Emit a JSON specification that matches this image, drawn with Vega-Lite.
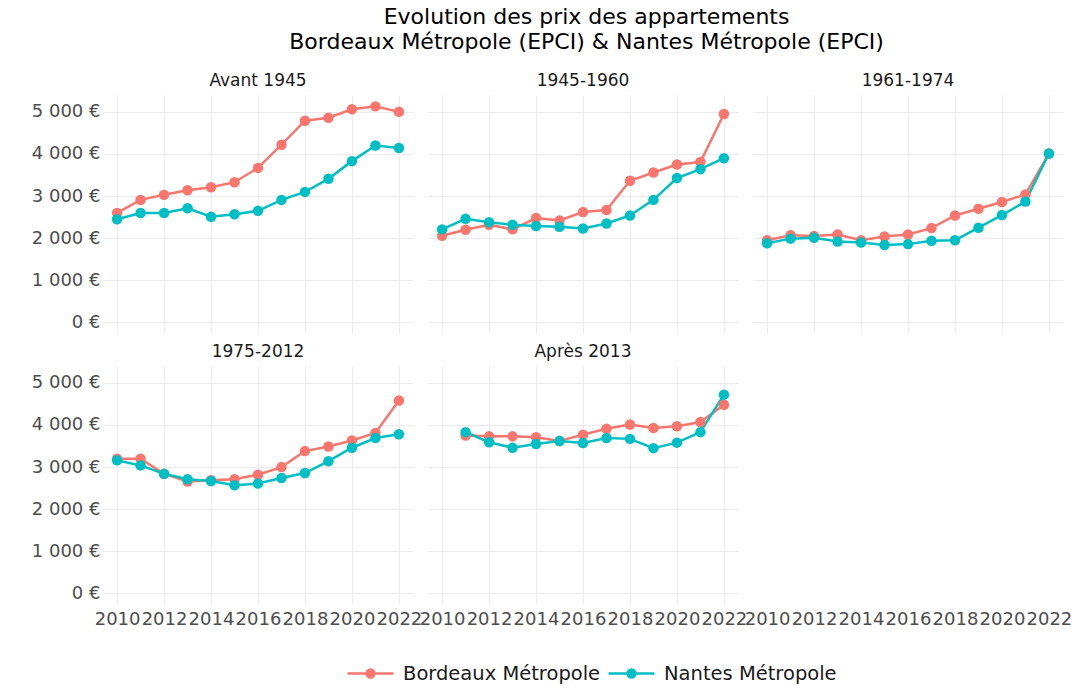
{
  "$schema": "https://vega.github.io/schema/vega-lite/v6.json",
  "padding": {"left": 31, "top": 6, "right": 10, "bottom": 6},
  "background": "white",
  "title": {
    "text": ["Evolution des prix des appartements", "Bordeaux Métropole (EPCI) & Nantes Métropole (EPCI)"],
    "fontSize": 22, "fontWeight": "normal", "font": "DejaVu Sans", "color": "#000000",
    "lineHeight": 24.5, "anchor": "middle", "offset": 18.5, "dx": 35
  },
  "config": {
    "font": "DejaVu Sans",
    "view": {"stroke": null},
    "axis": {"domain": false, "ticks": false, "grid": true, "gridColor": "#ebebeb", "gridWidth": 1,
             "labelFont": "DejaVu Sans", "labelFontSize": 18, "labelColor": "#4d4d4d", "title": null},
    "header": {"labelFont": "DejaVu Sans", "labelFontSize": 17, "labelColor": "#1a1a1a"}
  },
  "data": {"values": [
    {"periode":"Avant 1945","ville":"Bordeaux Métropole","annee":2010,"prix":2600},
    {"periode":"Avant 1945","ville":"Bordeaux Métropole","annee":2011,"prix":2910},
    {"periode":"Avant 1945","ville":"Bordeaux Métropole","annee":2012,"prix":3030},
    {"periode":"Avant 1945","ville":"Bordeaux Métropole","annee":2013,"prix":3140},
    {"periode":"Avant 1945","ville":"Bordeaux Métropole","annee":2014,"prix":3210},
    {"periode":"Avant 1945","ville":"Bordeaux Métropole","annee":2015,"prix":3330},
    {"periode":"Avant 1945","ville":"Bordeaux Métropole","annee":2016,"prix":3670},
    {"periode":"Avant 1945","ville":"Bordeaux Métropole","annee":2017,"prix":4220},
    {"periode":"Avant 1945","ville":"Bordeaux Métropole","annee":2018,"prix":4790},
    {"periode":"Avant 1945","ville":"Bordeaux Métropole","annee":2019,"prix":4860},
    {"periode":"Avant 1945","ville":"Bordeaux Métropole","annee":2020,"prix":5060},
    {"periode":"Avant 1945","ville":"Bordeaux Métropole","annee":2021,"prix":5130},
    {"periode":"Avant 1945","ville":"Bordeaux Métropole","annee":2022,"prix":5000},
    {"periode":"1945-1960","ville":"Bordeaux Métropole","annee":2010,"prix":2060},
    {"periode":"1945-1960","ville":"Bordeaux Métropole","annee":2011,"prix":2200},
    {"periode":"1945-1960","ville":"Bordeaux Métropole","annee":2012,"prix":2320},
    {"periode":"1945-1960","ville":"Bordeaux Métropole","annee":2013,"prix":2210},
    {"periode":"1945-1960","ville":"Bordeaux Métropole","annee":2014,"prix":2480},
    {"periode":"1945-1960","ville":"Bordeaux Métropole","annee":2015,"prix":2420},
    {"periode":"1945-1960","ville":"Bordeaux Métropole","annee":2016,"prix":2620},
    {"periode":"1945-1960","ville":"Bordeaux Métropole","annee":2017,"prix":2670},
    {"periode":"1945-1960","ville":"Bordeaux Métropole","annee":2018,"prix":3365},
    {"periode":"1945-1960","ville":"Bordeaux Métropole","annee":2019,"prix":3560},
    {"periode":"1945-1960","ville":"Bordeaux Métropole","annee":2020,"prix":3750},
    {"periode":"1945-1960","ville":"Bordeaux Métropole","annee":2021,"prix":3810},
    {"periode":"1945-1960","ville":"Bordeaux Métropole","annee":2022,"prix":4950},
    {"periode":"1961-1974","ville":"Bordeaux Métropole","annee":2010,"prix":1950},
    {"periode":"1961-1974","ville":"Bordeaux Métropole","annee":2011,"prix":2070},
    {"periode":"1961-1974","ville":"Bordeaux Métropole","annee":2012,"prix":2050},
    {"periode":"1961-1974","ville":"Bordeaux Métropole","annee":2013,"prix":2090},
    {"periode":"1961-1974","ville":"Bordeaux Métropole","annee":2014,"prix":1950},
    {"periode":"1961-1974","ville":"Bordeaux Métropole","annee":2015,"prix":2040},
    {"periode":"1961-1974","ville":"Bordeaux Métropole","annee":2016,"prix":2090},
    {"periode":"1961-1974","ville":"Bordeaux Métropole","annee":2017,"prix":2240},
    {"periode":"1961-1974","ville":"Bordeaux Métropole","annee":2018,"prix":2540},
    {"periode":"1961-1974","ville":"Bordeaux Métropole","annee":2019,"prix":2700},
    {"periode":"1961-1974","ville":"Bordeaux Métropole","annee":2020,"prix":2860},
    {"periode":"1961-1974","ville":"Bordeaux Métropole","annee":2021,"prix":3040},
    {"periode":"1961-1974","ville":"Bordeaux Métropole","annee":2022,"prix":4010},
    {"periode":"1975-2012","ville":"Bordeaux Métropole","annee":2010,"prix":3200},
    {"periode":"1975-2012","ville":"Bordeaux Métropole","annee":2011,"prix":3200},
    {"periode":"1975-2012","ville":"Bordeaux Métropole","annee":2012,"prix":2840},
    {"periode":"1975-2012","ville":"Bordeaux Métropole","annee":2013,"prix":2660},
    {"periode":"1975-2012","ville":"Bordeaux Métropole","annee":2014,"prix":2690},
    {"periode":"1975-2012","ville":"Bordeaux Métropole","annee":2015,"prix":2710},
    {"periode":"1975-2012","ville":"Bordeaux Métropole","annee":2016,"prix":2820},
    {"periode":"1975-2012","ville":"Bordeaux Métropole","annee":2017,"prix":3000},
    {"periode":"1975-2012","ville":"Bordeaux Métropole","annee":2018,"prix":3380},
    {"periode":"1975-2012","ville":"Bordeaux Métropole","annee":2019,"prix":3490},
    {"periode":"1975-2012","ville":"Bordeaux Métropole","annee":2020,"prix":3630},
    {"periode":"1975-2012","ville":"Bordeaux Métropole","annee":2021,"prix":3810},
    {"periode":"1975-2012","ville":"Bordeaux Métropole","annee":2022,"prix":4580},
    {"periode":"Après 2013","ville":"Bordeaux Métropole","annee":2011,"prix":3750},
    {"periode":"Après 2013","ville":"Bordeaux Métropole","annee":2012,"prix":3730},
    {"periode":"Après 2013","ville":"Bordeaux Métropole","annee":2013,"prix":3730},
    {"periode":"Après 2013","ville":"Bordeaux Métropole","annee":2014,"prix":3710},
    {"periode":"Après 2013","ville":"Bordeaux Métropole","annee":2015,"prix":3620},
    {"periode":"Après 2013","ville":"Bordeaux Métropole","annee":2016,"prix":3770},
    {"periode":"Après 2013","ville":"Bordeaux Métropole","annee":2017,"prix":3910},
    {"periode":"Après 2013","ville":"Bordeaux Métropole","annee":2018,"prix":4010},
    {"periode":"Après 2013","ville":"Bordeaux Métropole","annee":2019,"prix":3930},
    {"periode":"Après 2013","ville":"Bordeaux Métropole","annee":2020,"prix":3970},
    {"periode":"Après 2013","ville":"Bordeaux Métropole","annee":2021,"prix":4070},
    {"periode":"Après 2013","ville":"Bordeaux Métropole","annee":2022,"prix":4480},
    {"periode":"Avant 1945","ville":"Nantes Métropole","annee":2010,"prix":2450},
    {"periode":"Avant 1945","ville":"Nantes Métropole","annee":2011,"prix":2600},
    {"periode":"Avant 1945","ville":"Nantes Métropole","annee":2012,"prix":2600},
    {"periode":"Avant 1945","ville":"Nantes Métropole","annee":2013,"prix":2710},
    {"periode":"Avant 1945","ville":"Nantes Métropole","annee":2014,"prix":2510},
    {"periode":"Avant 1945","ville":"Nantes Métropole","annee":2015,"prix":2570},
    {"periode":"Avant 1945","ville":"Nantes Métropole","annee":2016,"prix":2650},
    {"periode":"Avant 1945","ville":"Nantes Métropole","annee":2017,"prix":2910},
    {"periode":"Avant 1945","ville":"Nantes Métropole","annee":2018,"prix":3100},
    {"periode":"Avant 1945","ville":"Nantes Métropole","annee":2019,"prix":3410},
    {"periode":"Avant 1945","ville":"Nantes Métropole","annee":2020,"prix":3830},
    {"periode":"Avant 1945","ville":"Nantes Métropole","annee":2021,"prix":4200},
    {"periode":"Avant 1945","ville":"Nantes Métropole","annee":2022,"prix":4140},
    {"periode":"1945-1960","ville":"Nantes Métropole","annee":2010,"prix":2210},
    {"periode":"1945-1960","ville":"Nantes Métropole","annee":2011,"prix":2460},
    {"periode":"1945-1960","ville":"Nantes Métropole","annee":2012,"prix":2380},
    {"periode":"1945-1960","ville":"Nantes Métropole","annee":2013,"prix":2320},
    {"periode":"1945-1960","ville":"Nantes Métropole","annee":2014,"prix":2290},
    {"periode":"1945-1960","ville":"Nantes Métropole","annee":2015,"prix":2270},
    {"periode":"1945-1960","ville":"Nantes Métropole","annee":2016,"prix":2230},
    {"periode":"1945-1960","ville":"Nantes Métropole","annee":2017,"prix":2350},
    {"periode":"1945-1960","ville":"Nantes Métropole","annee":2018,"prix":2540},
    {"periode":"1945-1960","ville":"Nantes Métropole","annee":2019,"prix":2910},
    {"periode":"1945-1960","ville":"Nantes Métropole","annee":2020,"prix":3430},
    {"periode":"1945-1960","ville":"Nantes Métropole","annee":2021,"prix":3640},
    {"periode":"1945-1960","ville":"Nantes Métropole","annee":2022,"prix":3900},
    {"periode":"1961-1974","ville":"Nantes Métropole","annee":2010,"prix":1880},
    {"periode":"1961-1974","ville":"Nantes Métropole","annee":2011,"prix":1990},
    {"periode":"1961-1974","ville":"Nantes Métropole","annee":2012,"prix":2010},
    {"periode":"1961-1974","ville":"Nantes Métropole","annee":2013,"prix":1920},
    {"periode":"1961-1974","ville":"Nantes Métropole","annee":2014,"prix":1900},
    {"periode":"1961-1974","ville":"Nantes Métropole","annee":2015,"prix":1840},
    {"periode":"1961-1974","ville":"Nantes Métropole","annee":2016,"prix":1860},
    {"periode":"1961-1974","ville":"Nantes Métropole","annee":2017,"prix":1940},
    {"periode":"1961-1974","ville":"Nantes Métropole","annee":2018,"prix":1950},
    {"periode":"1961-1974","ville":"Nantes Métropole","annee":2019,"prix":2250},
    {"periode":"1961-1974","ville":"Nantes Métropole","annee":2020,"prix":2550},
    {"periode":"1961-1974","ville":"Nantes Métropole","annee":2021,"prix":2870},
    {"periode":"1961-1974","ville":"Nantes Métropole","annee":2022,"prix":4010},
    {"periode":"1975-2012","ville":"Nantes Métropole","annee":2010,"prix":3160},
    {"periode":"1975-2012","ville":"Nantes Métropole","annee":2011,"prix":3040},
    {"periode":"1975-2012","ville":"Nantes Métropole","annee":2012,"prix":2840},
    {"periode":"1975-2012","ville":"Nantes Métropole","annee":2013,"prix":2710},
    {"periode":"1975-2012","ville":"Nantes Métropole","annee":2014,"prix":2670},
    {"periode":"1975-2012","ville":"Nantes Métropole","annee":2015,"prix":2570},
    {"periode":"1975-2012","ville":"Nantes Métropole","annee":2016,"prix":2610},
    {"periode":"1975-2012","ville":"Nantes Métropole","annee":2017,"prix":2740},
    {"periode":"1975-2012","ville":"Nantes Métropole","annee":2018,"prix":2860},
    {"periode":"1975-2012","ville":"Nantes Métropole","annee":2019,"prix":3140},
    {"periode":"1975-2012","ville":"Nantes Métropole","annee":2020,"prix":3460},
    {"periode":"1975-2012","ville":"Nantes Métropole","annee":2021,"prix":3690},
    {"periode":"1975-2012","ville":"Nantes Métropole","annee":2022,"prix":3780},
    {"periode":"Après 2013","ville":"Nantes Métropole","annee":2011,"prix":3830},
    {"periode":"Après 2013","ville":"Nantes Métropole","annee":2012,"prix":3590},
    {"periode":"Après 2013","ville":"Nantes Métropole","annee":2013,"prix":3460},
    {"periode":"Après 2013","ville":"Nantes Métropole","annee":2014,"prix":3550},
    {"periode":"Après 2013","ville":"Nantes Métropole","annee":2015,"prix":3620},
    {"periode":"Après 2013","ville":"Nantes Métropole","annee":2016,"prix":3570},
    {"periode":"Après 2013","ville":"Nantes Métropole","annee":2017,"prix":3690},
    {"periode":"Après 2013","ville":"Nantes Métropole","annee":2018,"prix":3670},
    {"periode":"Après 2013","ville":"Nantes Métropole","annee":2019,"prix":3450},
    {"periode":"Après 2013","ville":"Nantes Métropole","annee":2020,"prix":3580},
    {"periode":"Après 2013","ville":"Nantes Métropole","annee":2021,"prix":3830},
    {"periode":"Après 2013","ville":"Nantes Métropole","annee":2022,"prix":4720}
  ]},
  "facet": {
    "field": "periode", "type": "nominal",
    "sort": ["Avant 1945", "1945-1960", "1961-1974", "1975-2012", "Après 2013"],
    "header": {"title": null, "labelPadding": 5}
  },
  "columns": 3,
  "spacing": {"row": 10, "column": 15},
  "spec": {
    "width": 310,
    "height": 238,
    "encoding": {
      "x": {"field": "annee", "type": "quantitative",
            "scale": {"domain": [2009.4, 2022.6], "nice": false, "zero": false},
            "axis": {"values": [2010, 2012, 2014, 2016, 2018, 2020, 2022], "format": "d",
                     "labelOverlap": false, "labelFlush": false, "labelBound": false, "labelPadding": 6}},
      "y": {"field": "prix", "type": "quantitative",
            "scale": {"domain": [-250, 5400], "nice": false, "zero": false},
            "axis": {"values": [0, 1000, 2000, 3000, 4000, 5000], "labelPadding": 3,
                     "labelExpr": "replace(format(datum.value, ',d'), ',', ' ') + ' €'"}},
      "color": {"field": "ville", "type": "nominal",
                "scale": {"domain": ["Bordeaux Métropole", "Nantes Métropole"], "range": ["#F8766D", "#00BFC4"]},
                "legend": {"title": null, "orient": "none", "legendX": 243, "legendY": 554, "direction": "horizontal",
                           "labelFontSize": 19.5, "labelColor": "#1a1a1a", "labelFont": "DejaVu Sans", "labelLimit": 400,
                           "symbolType": "M-1,0L1,0M-0.17,0A0.17,0.17 0 1,1 0.17,0A0.17,0.17 0 1,1 -0.17,0",
                           "symbolSize": 2116, "symbolStrokeWidth": 2.5, "columnPadding": 2, "labelOffset": 8}}
    },
    "layer": [
      {"mark": {"type": "line", "strokeWidth": 2.5}},
      {"mark": {"type": "point", "filled": true, "size": 110, "opacity": 1}}
    ]
  }
}
